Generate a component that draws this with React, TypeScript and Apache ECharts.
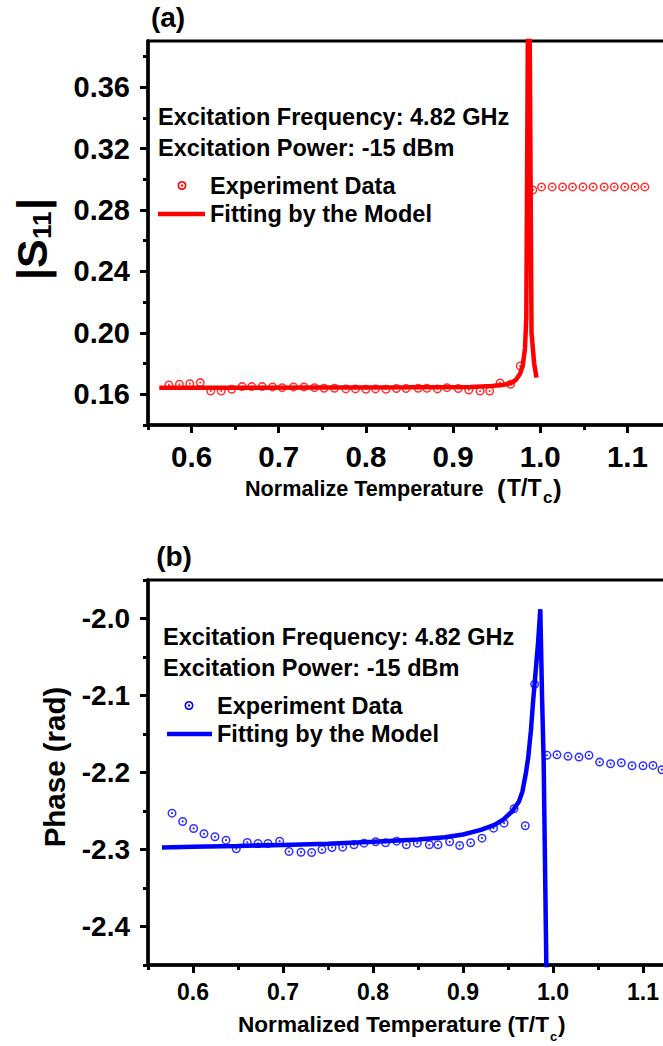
import React, { useEffect, useRef } from 'react';
import * as echarts from 'echarts';

// ---------- tick values ----------
const xMajorTicks = [0.6, 0.7, 0.8, 0.9, 1.0, 1.1];
const xMinorTicks = [0.55, 0.65, 0.75, 0.85, 0.95, 1.05, 1.15];
const s11MajorTicks = [0.16, 0.2, 0.24, 0.28, 0.32, 0.36];
const s11MinorTicks = [0.14, 0.18, 0.22, 0.26, 0.3, 0.34, 0.38];
const phaseMajorTicks = [-2.4, -2.3, -2.2, -2.1, -2.0];
const phaseMinorTicks = [-2.45, -2.35, -2.25, -2.15, -2.05, -1.95];

// ---------- (a) |S11| ----------
const s11ExpT = [
  0.574, 0.586, 0.598, 0.61, 0.622, 0.634, 0.646, 0.658, 0.669, 0.681, 0.693, 0.704,
  0.717, 0.729, 0.741, 0.752, 0.764, 0.777, 0.788, 0.8, 0.811, 0.823, 0.835, 0.846,
  0.86, 0.87, 0.882, 0.893, 0.906, 0.918, 0.931, 0.942, 0.954, 0.966, 0.977, 0.9915,
  1.0015, 1.0137, 1.0256, 1.037, 1.049, 1.0607, 1.0734, 1.0849, 1.097, 1.1086, 1.12,
];
const s11ExpVal = [
  0.1661, 0.1665, 0.1669, 0.1676, 0.1621, 0.1621, 0.1633, 0.165, 0.165, 0.165, 0.1648, 0.1643,
  0.1648, 0.1648, 0.1643, 0.1639, 0.1639, 0.1635, 0.1635, 0.1633, 0.1635, 0.1633, 0.1637, 0.1637,
  0.1639, 0.1639, 0.1635, 0.1643, 0.1637, 0.1628, 0.1621, 0.1621, 0.1674, 0.1665, 0.1784, 0.293,
  0.295, 0.295, 0.295, 0.295, 0.295, 0.295, 0.295, 0.295, 0.295, 0.295, 0.295,
];
const s11FitT = [
  0.563, 0.65, 0.75, 0.85, 0.92, 0.945, 0.958, 0.966, 0.972, 0.977, 0.98, 0.9825, 0.984,
  0.9868, 0.99, 0.993, 0.9957,
];
const s11FitVal = [
  0.1643, 0.1643, 0.1644, 0.1645, 0.1648, 0.1654, 0.1662, 0.1672, 0.1693, 0.1735, 0.179,
  0.19, 0.21, 0.5, 0.2, 0.18, 0.1708,
];

// ---------- (b) Phase ----------
const phaseExpT = [
  0.5767, 0.5885, 0.6007, 0.6122, 0.6244, 0.6367, 0.6481, 0.6603, 0.6722, 0.6833, 0.6963,
  0.7067, 0.72, 0.7318, 0.7433, 0.7544, 0.7663, 0.7789, 0.79, 0.8029, 0.814, 0.8263, 0.837,
  0.8492, 0.8626, 0.8722, 0.8852, 0.8963, 0.9085, 0.9211, 0.934, 0.9456, 0.9567, 0.9692,
  0.9796, 0.9933, 1.0044, 1.0167, 1.0289, 1.04, 1.0518, 1.064, 1.0759, 1.0878, 1.1, 1.1111,
  1.121,
];
const phaseExpVal = [
  -2.2528, -2.2636, -2.2727, -2.2796, -2.2835, -2.2879, -2.2991, -2.2909, -2.2922, -2.2922,
  -2.2892, -2.3026, -2.3035, -2.3039, -2.3, -2.2974, -2.297, -2.2939, -2.2918, -2.29, -2.2913,
  -2.2892, -2.2939, -2.2918, -2.2939, -2.2939, -2.29, -2.2948, -2.2913, -2.2853, -2.2723,
  -2.2658, -2.2471, -2.2692, -2.0854, -2.1777, -2.1769, -2.179, -2.18, -2.1777, -2.1865,
  -2.1886, -2.1873, -2.1912, -2.1912, -2.1908, -2.1964,
];
const phaseFitT = [
  0.5655, 0.6, 0.65, 0.7, 0.75, 0.8, 0.85, 0.88, 0.9, 0.92, 0.935, 0.945, 0.955, 0.962, 0.966,
  0.97, 0.9725, 0.9755, 0.978, 0.981, 0.9835, 0.9859, 0.9878, 0.9896, 0.9926, 0.9935,
];
const phaseFitVal = [
  -2.2973, -2.2965, -2.2955, -2.294, -2.2925, -2.29, -2.287, -2.284, -2.2805, -2.2745, -2.268,
  -2.261, -2.25, -2.238, -2.225, -2.2, -2.18, -2.145, -2.106, -2.065, -2.03, -1.988, -2.1,
  -2.184, -2.45, -2.5,
];

const zip = (a: number[], b: number[]) => a.map((v, i) => [v, b[i]]);

const FONT = '"Liberation Sans", Arial, Helvetica, sans-serif';
const RED = '#ff0000';
const BLUE = '#0000ff';
const RING =
  'path://M10,0A10,10,0,1,0,10,20A10,10,0,1,0,10,0ZM10,3.4A6.6,6.6,0,1,1,10,16.6A6.6,6.6,0,1,1,10,3.4ZM10,7.5A2.5,2.5,0,1,0,10,12.5A2.5,2.5,0,1,0,10,7.5Z';

const gridA = { left: 148, top: 41, width: 523, height: 384, outerBoundsMode: 'none', containLabel: false };
const gridB = { left: 148, top: 580, width: 540, height: 385, outerBoundsMode: 'none', containLabel: false };

function txt(
  text: string,
  x: number,
  y: number,
  size: number,
  align: string = 'left',
  extra: any = {}
) {
  return {
    type: 'text',
    x,
    y,
    silent: true,
    style: {
      text,
      fill: '#000',
      font: `bold ${size}px ${FONT}`,
      align,
      textAlign: align,
      verticalAlign: 'middle',
      textVerticalAlign: 'middle',
      ...extra,
    },
  };
}

function majorX(gridIndex: number, min: number, max: number, fontSize: number, margin: number) {
  return {
    type: 'value',
    gridIndex,
    min,
    max,
    position: 'bottom',
    splitLine: { show: false },
    axisLine: { show: true, onZero: false, lineStyle: { color: '#000', width: 3.5 } },
    axisTick: {
      show: true,
      inside: false,
      customValues: xMajorTicks,
      length: 8,
      lineStyle: { color: '#000', width: 3 },
    },
    axisLabel: {
      show: true,
      customValues: xMajorTicks,
      formatter: (v: number) => v.toFixed(1),
      fontSize,
      fontWeight: 'bold',
      fontFamily: FONT,
      color: '#000',
      margin,
    },
  };
}

function minorX(gridIndex: number, min: number, max: number) {
  return {
    type: 'value',
    gridIndex,
    min,
    max,
    position: 'bottom',
    splitLine: { show: false },
    axisLine: { show: false, onZero: false },
    axisTick: {
      show: true,
      inside: false,
      customValues: xMinorTicks,
      length: 5,
      lineStyle: { color: '#000', width: 3 },
    },
    axisLabel: { show: false },
  };
}

function majorY(
  gridIndex: number,
  min: number,
  max: number,
  ticks: number[],
  digits: number,
  fontSize: number
) {
  return {
    type: 'value',
    gridIndex,
    min,
    max,
    position: 'left',
    splitLine: { show: false },
    axisLine: { show: true, onZero: false, lineStyle: { color: '#000', width: 3.5 } },
    axisTick: {
      show: true,
      inside: false,
      customValues: ticks,
      length: 8,
      lineStyle: { color: '#000', width: 3 },
    },
    axisLabel: {
      show: true,
      customValues: ticks,
      formatter: (v: number) => v.toFixed(digits),
      fontSize,
      fontWeight: 'bold',
      fontFamily: FONT,
      color: '#000',
      margin: 18,
    },
  };
}

function minorY(gridIndex: number, min: number, max: number, ticks: number[]) {
  return {
    type: 'value',
    gridIndex,
    min,
    max,
    position: 'left',
    splitLine: { show: false },
    axisLine: { show: false, onZero: false },
    axisTick: {
      show: true,
      inside: false,
      customValues: ticks,
      length: 5,
      lineStyle: { color: '#000', width: 3 },
    },
    axisLabel: { show: false },
  };
}

function legendBlock(x0: number, yFreq: number, color: string, markerX: number, textX: number, lineX1: number, lineX2: number) {
  const yPow = yFreq + 30.5;
  const yExp = yFreq + 68.5;
  const yFit = yFreq + 97;
  return [
    txt('Excitation Frequency: 4.82 GHz', x0, yFreq, 23.5),
    txt('Excitation Power: -15 dBm', x0, yPow, 23.5),
    {
      type: 'circle',
      silent: true,
      shape: { cx: markerX, cy: yExp, r: 3.7 },
      style: { fill: 'none', stroke: color, lineWidth: 1.6 },
    },
    {
      type: 'circle',
      silent: true,
      shape: { cx: markerX, cy: yExp, r: 1.2 },
      style: { fill: color },
    },
    txt('Experiment Data', textX, yExp, 23.5),
    {
      type: 'line',
      silent: true,
      shape: { x1: lineX1, y1: yFit, x2: lineX2, y2: yFit },
      style: { stroke: color, lineWidth: 4.5 },
    },
    txt('Fitting by the Model', textX, yFit, 23.5),
  ];
}

function buildOption() {
  const graphic: any[] = [
    txt('(a)', 168, 17, 28, 'center'),
    txt('(b)', 174, 556, 28, 'center'),
    ...legendBlock(158, 117, RED, 182, 210, 158, 205),
    ...legendBlock(163, 637, BLUE, 189, 217, 167, 212),
    // x-axis name (a)
    txt('Normalize Temperature', 245, 488, 21.6),
    txt('(', 497, 489, 26),
    txt('T/T', 507, 488, 23),
    txt('c', 543, 497, 17),
    txt(')', 553, 489, 26),
    // x-axis name (b)
    txt('Normalized Temperature (T/T', 238, 1024, 22.6),
    txt('c', 550, 1036, 13),
    txt(')', 558, 1024, 22.6),
    // y-axis name (a): |S11|
    {
      type: 'group',
      x: 33,
      y: 240,
      rotation: Math.PI / 2,
      silent: true,
      children: [
        txt('|S', -40, -1, 43),
        txt('11', 1, 9, 26),
        txt('|', 30, -1, 43),
      ],
    },
    // y-axis name (b)
    {
      type: 'group',
      x: 54,
      y: 767,
      rotation: Math.PI / 2,
      silent: true,
      children: [txt('Phase (rad)', 0, 0, 29.5, 'center')],
    },
  ];

  return {
    animation: false,
    backgroundColor: '#fff',
    grid: [
      { ...gridA, show: true, borderColor: '#000', borderWidth: 3, backgroundColor: 'rgba(0,0,0,0)' },
      { ...gridA },
      { ...gridB, show: true, borderColor: '#000', borderWidth: 3, backgroundColor: 'rgba(0,0,0,0)' },
      { ...gridB },
    ],
    xAxis: [
      majorX(0, 0.55, 1.15, 29.5, 16),
      minorX(1, 0.55, 1.15),
      majorX(2, 0.55, 1.15, 23, 15),
      minorX(3, 0.55, 1.15),
    ],
    yAxis: [
      majorY(0, 0.14, 0.39, s11MajorTicks, 2, 29),
      minorY(1, 0.14, 0.39, s11MinorTicks),
      majorY(2, -2.45, -1.95, phaseMajorTicks, 1, 28),
      minorY(3, -2.45, -1.95, phaseMinorTicks),
    ],
    series: [
      {
        name: 'Fitting by the Model',
        type: 'line',
        xAxisIndex: 0,
        yAxisIndex: 0,
        data: zip(s11FitT, s11FitVal),
        symbol: 'none',
        showSymbol: false,
        clip: true,
        lineStyle: { color: RED, width: 4.5 },
        z: 2,
      },
      {
        name: 'Experiment Data',
        type: 'scatter',
        xAxisIndex: 0,
        yAxisIndex: 0,
        data: zip(s11ExpT, s11ExpVal),
        symbol: RING,
        symbolSize: 9,
        itemStyle: { color: RED },
        z: 3,
      },
      {
        name: 'Fitting by the Model ',
        type: 'line',
        xAxisIndex: 2,
        yAxisIndex: 2,
        data: zip(phaseFitT, phaseFitVal),
        symbol: 'none',
        showSymbol: false,
        clip: true,
        lineStyle: { color: BLUE, width: 4.5 },
        z: 2,
      },
      {
        name: 'Experiment Data ',
        type: 'scatter',
        xAxisIndex: 2,
        yAxisIndex: 2,
        data: zip(phaseExpT, phaseExpVal),
        symbol: RING,
        symbolSize: 9,
        itemStyle: { color: BLUE },
        z: 3,
      },
    ],
    graphic,
  };
}

export default function App() {
  const ref = useRef<HTMLDivElement>(null);
  useEffect(() => {
    if (!ref.current) return;
    const chart = echarts.init(ref.current, null, { renderer: 'svg' });
    chart.setOption(buildOption() as any);
    return () => chart.dispose();
  }, []);
  return (
    <div
      ref={ref}
      style={{ position: 'fixed', left: 0, top: 0, width: 663, height: 1046, background: '#fff' }}
    />
  );
}
